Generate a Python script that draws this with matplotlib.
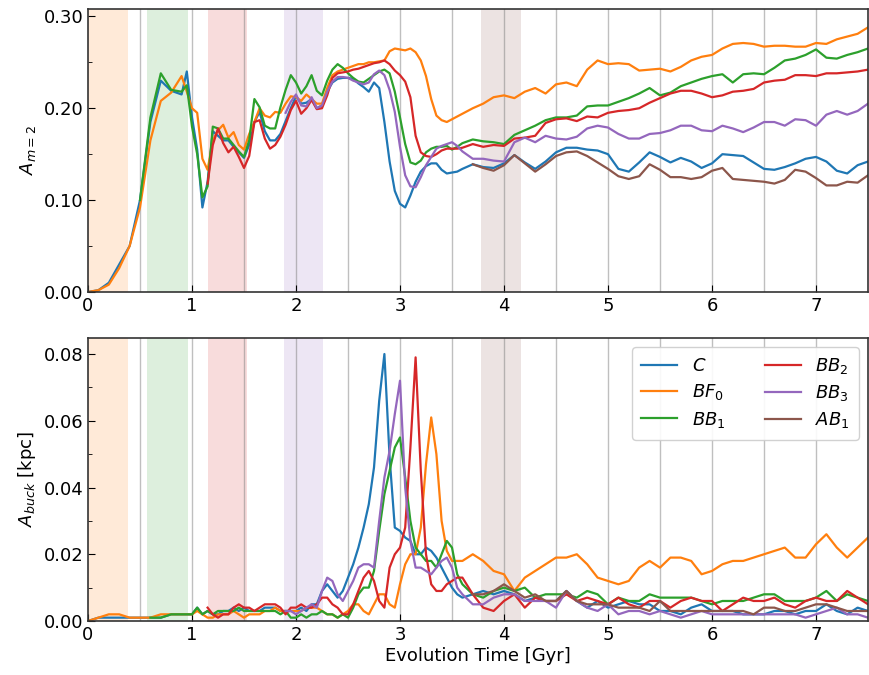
import numpy as np
import matplotlib
matplotlib.use("Agg")
import matplotlib.pyplot as plt
from matplotlib.ticker import MultipleLocator

# ---- time grid (Gyr) ----
t = np.round(np.concatenate([np.arange(0.0, 0.85, 0.1),
                             np.arange(0.9, 3.625, 0.05),
                             np.arange(3.7, 7.55, 0.1)]), 3)

labels = ["$C$", "$BF_0$", "$BB_1$", "$BB_2$", "$BB_3$", "$AB_1$"]
colors = ["#1f77b4", "#ff7f0e", "#2ca02c", "#d62728", "#9467bd", "#8c564b"]

# ---- A_{m=2} (top) ----
C_top = [0.000, 0.002, 0.010, 0.030, 0.050, 0.100, 0.185, 0.230, 0.219,
         0.215, 0.240, 0.190, 0.155, 0.092, 0.120, 0.175, 0.170, 0.165, 0.165,
         0.158, 0.152, 0.146, 0.160, 0.185, 0.196, 0.175, 0.165, 0.165, 0.172,
         0.186, 0.200, 0.213, 0.205, 0.206, 0.210, 0.200, 0.203, 0.218, 0.228,
         0.232, 0.233, 0.233, 0.232, 0.227, 0.223, 0.218, 0.228, 0.222, 0.185,
         0.142, 0.110, 0.096, 0.092, 0.105, 0.120, 0.131, 0.137, 0.140, 0.140,
         0.133, 0.129, 0.130, 0.131, 0.134,
         0.139, 0.136, 0.135, 0.140, 0.149, 0.141, 0.134, 0.142, 0.152, 0.157,
         0.157, 0.155, 0.154, 0.150, 0.134, 0.131, 0.141, 0.152, 0.147, 0.141,
         0.146, 0.142, 0.135, 0.140, 0.150, 0.149, 0.148, 0.141, 0.134, 0.133,
         0.136, 0.140, 0.145, 0.147, 0.142, 0.132, 0.129, 0.138, 0.142]
BF0_top = [0.000, 0.002, 0.008, 0.026, 0.050, 0.092, 0.165, 0.208, 0.217,
           0.235, 0.218, 0.200, 0.195, 0.145, 0.133, 0.165, 0.176, 0.182, 0.168,
           0.174, 0.160, 0.155, 0.172, 0.185, 0.200, 0.192, 0.190, 0.196, 0.195,
           0.205, 0.213, 0.212, 0.208, 0.215, 0.210, 0.205, 0.205, 0.222, 0.236,
           0.240, 0.242, 0.244, 0.246, 0.248, 0.248, 0.250, 0.250, 0.251, 0.252,
           0.262, 0.265, 0.264, 0.263, 0.265, 0.261, 0.252, 0.235, 0.210, 0.192,
           0.187, 0.185, 0.188, 0.191, 0.194,
           0.200, 0.205, 0.212, 0.214, 0.211, 0.218, 0.222, 0.216, 0.226, 0.228,
           0.224, 0.242, 0.252, 0.248, 0.249, 0.248, 0.241, 0.242, 0.243, 0.240,
           0.245, 0.252, 0.256, 0.258, 0.265, 0.270, 0.271, 0.270, 0.267, 0.268,
           0.268, 0.267, 0.267, 0.271, 0.270, 0.275, 0.278, 0.281, 0.288]
BB1_top = [0.100, 0.190, 0.238, 0.220,
           0.218, 0.225, 0.180, 0.150, 0.103, 0.115, 0.180, 0.178, 0.167, 0.167,
           0.160, 0.153, 0.147, 0.165, 0.210, 0.201, 0.181, 0.178, 0.178, 0.201,
           0.220, 0.236, 0.228, 0.216, 0.224, 0.236, 0.219, 0.214, 0.230, 0.242,
           0.248, 0.244, 0.238, 0.233, 0.229, 0.228, 0.232, 0.236, 0.240, 0.242,
           0.238, 0.218, 0.190, 0.161, 0.141, 0.139, 0.143, 0.152, 0.156, 0.158,
           0.158, 0.159, 0.155, 0.158, 0.162,
           0.166, 0.164, 0.163, 0.161, 0.171, 0.176, 0.181, 0.187, 0.190, 0.190,
           0.192, 0.202, 0.203, 0.203, 0.207, 0.211, 0.216, 0.222, 0.214, 0.217,
           0.224, 0.228, 0.232, 0.235, 0.237, 0.228, 0.237, 0.238, 0.237, 0.244,
           0.252, 0.254, 0.258, 0.264, 0.255, 0.254, 0.258, 0.261, 0.265]
BB2_top = [0.118, 0.160, 0.178, 0.162, 0.152,
           0.158, 0.147, 0.135, 0.148, 0.185, 0.187, 0.167, 0.156, 0.160, 0.169,
           0.182, 0.198, 0.208, 0.194, 0.200, 0.209, 0.199, 0.200, 0.214, 0.233,
           0.238, 0.239, 0.240, 0.242, 0.243, 0.245, 0.247, 0.249, 0.250, 0.252,
           0.248, 0.241, 0.236, 0.229, 0.212, 0.170, 0.152, 0.148, 0.147, 0.150,
           0.154, 0.156, 0.156, 0.156, 0.157,
           0.161, 0.158, 0.160, 0.159, 0.167, 0.168, 0.170, 0.184, 0.188, 0.189,
           0.186, 0.191, 0.190, 0.195, 0.197, 0.198, 0.200, 0.206, 0.211, 0.216,
           0.219, 0.219, 0.216, 0.212, 0.214, 0.218, 0.219, 0.221, 0.228, 0.230,
           0.231, 0.236, 0.236, 0.235, 0.238, 0.238, 0.239, 0.240, 0.242]
BB3_top = [0.195, 0.207, 0.215, 0.203, 0.202, 0.212, 0.200, 0.203, 0.218, 0.229,
           0.234, 0.234, 0.233, 0.230, 0.228, 0.226, 0.228, 0.237, 0.241, 0.236,
           0.220, 0.196, 0.158, 0.127, 0.115, 0.114, 0.125, 0.138, 0.147, 0.156,
           0.159, 0.161, 0.163, 0.159, 0.153,
           0.145, 0.145, 0.143, 0.142, 0.163, 0.168, 0.163, 0.170, 0.167, 0.166,
           0.169, 0.178, 0.181, 0.179, 0.172, 0.167, 0.167, 0.172, 0.173, 0.176,
           0.181, 0.181, 0.176, 0.175, 0.181, 0.178, 0.174, 0.179, 0.185, 0.185,
           0.181, 0.188, 0.187, 0.181, 0.193, 0.197, 0.193, 0.197, 0.205]
AB1_top = [0.139, 0.135, 0.132, 0.138, 0.149, 0.140, 0.131, 0.139, 0.148, 0.152,
           0.153, 0.148, 0.141, 0.134, 0.126, 0.123, 0.126, 0.139, 0.133, 0.125,
           0.125, 0.123, 0.125, 0.132, 0.135, 0.123, 0.122, 0.121, 0.120, 0.118,
           0.122, 0.133, 0.131, 0.124, 0.116, 0.116, 0.120, 0.119, 0.127]

# ---- A_buck [kpc] (bottom) ----
C_bot = [0.000, 0.001, 0.001, 0.001, 0.001, 0.001, 0.001, 0.001, 0.002,
         0.002, 0.002, 0.002, 0.004, 0.002, 0.003, 0.002, 0.002, 0.003, 0.003,
         0.004, 0.003, 0.004, 0.003, 0.003, 0.003, 0.004, 0.004, 0.004, 0.003,
         0.003, 0.003, 0.003, 0.004, 0.003, 0.005, 0.005, 0.009, 0.011, 0.009,
         0.007, 0.009, 0.013, 0.017, 0.022, 0.028, 0.035, 0.046, 0.066, 0.080,
         0.049, 0.028, 0.027, 0.025, 0.024, 0.020, 0.020, 0.022, 0.021, 0.019,
         0.016, 0.013, 0.010, 0.008, 0.007,
         0.008, 0.009, 0.008, 0.009, 0.008, 0.006, 0.007, 0.006, 0.006, 0.009,
         0.006, 0.004, 0.006, 0.004, 0.005, 0.006, 0.005, 0.005, 0.003, 0.003,
         0.002, 0.004, 0.005, 0.003, 0.003, 0.003, 0.002, 0.002, 0.002, 0.003,
         0.003, 0.002, 0.003, 0.003, 0.005, 0.003, 0.002, 0.004, 0.003]
BF0_bot = [0.000, 0.001, 0.002, 0.002, 0.001, 0.001, 0.001, 0.002, 0.002,
           0.002, 0.002, 0.002, 0.003, 0.002, 0.001, 0.001, 0.002, 0.002, 0.002,
           0.003, 0.002, 0.001, 0.002, 0.002, 0.002, 0.003, 0.003, 0.004, 0.003,
           0.003, 0.003, 0.003, 0.003, 0.004, 0.004, 0.004, 0.003, 0.002, 0.002,
           0.001, 0.002, 0.003, 0.005, 0.005, 0.003, 0.002, 0.005, 0.008, 0.008,
           0.005, 0.004, 0.011, 0.017, 0.020, 0.020, 0.028, 0.047, 0.061, 0.050,
           0.030, 0.021, 0.018, 0.018, 0.018,
           0.020, 0.018, 0.015, 0.014, 0.009, 0.013, 0.015, 0.017, 0.019, 0.019,
           0.020, 0.017, 0.013, 0.012, 0.011, 0.012, 0.016, 0.018, 0.016, 0.019,
           0.019, 0.018, 0.014, 0.015, 0.017, 0.018, 0.018, 0.019, 0.020, 0.021,
           0.022, 0.019, 0.019, 0.023, 0.026, 0.022, 0.019, 0.022, 0.025]
BB1_bot = [0.001, 0.001, 0.002,
           0.002, 0.002, 0.002, 0.004, 0.002, 0.003, 0.002, 0.003, 0.003, 0.003,
           0.003, 0.004, 0.003, 0.003, 0.003, 0.003, 0.003, 0.003, 0.003, 0.002,
           0.003, 0.001, 0.001, 0.002, 0.001, 0.002, 0.002, 0.003, 0.002, 0.002,
           0.001, 0.002, 0.001, 0.004, 0.008, 0.010, 0.010, 0.015, 0.027, 0.038,
           0.045, 0.052, 0.055, 0.043, 0.030, 0.022, 0.020, 0.018, 0.018, 0.016,
           0.020, 0.024, 0.022, 0.014, 0.011,
           0.008, 0.007, 0.009, 0.010, 0.009, 0.010, 0.007, 0.008, 0.008, 0.008,
           0.007, 0.009, 0.008, 0.005, 0.007, 0.006, 0.006, 0.008, 0.007, 0.007,
           0.007, 0.007, 0.006, 0.005, 0.006, 0.006, 0.006, 0.007, 0.008, 0.008,
           0.006, 0.006, 0.006, 0.007, 0.009, 0.006, 0.008, 0.007, 0.006]
BB2_bot = [0.004, 0.002, 0.001, 0.002, 0.002,
           0.004, 0.005, 0.004, 0.004, 0.003, 0.004, 0.005, 0.005, 0.005, 0.004,
           0.002, 0.004, 0.004, 0.005, 0.004, 0.004, 0.005, 0.007, 0.007, 0.005,
           0.004, 0.002, 0.002, 0.005, 0.009, 0.013, 0.015, 0.012, 0.006, 0.004,
           0.016, 0.020, 0.022, 0.028, 0.052, 0.079, 0.045, 0.020, 0.011, 0.009,
           0.009, 0.011, 0.012, 0.013, 0.013,
           0.008, 0.004, 0.003, 0.006, 0.008, 0.004, 0.007, 0.006, 0.006, 0.008,
           0.006, 0.007, 0.006, 0.005, 0.007, 0.005, 0.004, 0.006, 0.006, 0.004,
           0.006, 0.007, 0.006, 0.006, 0.003, 0.005, 0.007, 0.006, 0.006, 0.007,
           0.005, 0.004, 0.006, 0.007, 0.006, 0.006, 0.009, 0.007, 0.005]
BB3_bot = [0.003, 0.003, 0.002, 0.003, 0.004, 0.005, 0.004, 0.009, 0.013, 0.012,
           0.008, 0.006, 0.009, 0.012, 0.016, 0.017, 0.017, 0.016, 0.030, 0.043,
           0.051, 0.062, 0.072, 0.040, 0.024, 0.016, 0.016, 0.015, 0.014, 0.016,
           0.018, 0.019, 0.016, 0.010, 0.008,
           0.005, 0.005, 0.007, 0.008, 0.008, 0.006, 0.006, 0.006, 0.004, 0.009,
           0.006, 0.004, 0.003, 0.005, 0.002, 0.003, 0.003, 0.002, 0.003, 0.002,
           0.001, 0.002, 0.003, 0.002, 0.002, 0.002, 0.002, 0.002, 0.002, 0.002,
           0.002, 0.002, 0.001, 0.002, 0.003, 0.004, 0.002, 0.002, 0.001]
AB1_bot = [0.008, 0.008, 0.009, 0.011, 0.009, 0.007, 0.008, 0.006, 0.006, 0.009,
           0.006, 0.005, 0.005, 0.005, 0.004, 0.004, 0.004, 0.003, 0.006, 0.003,
           0.003, 0.003, 0.003, 0.003, 0.003, 0.003, 0.003, 0.002, 0.004, 0.004,
           0.003, 0.003, 0.004, 0.005, 0.005, 0.004, 0.003, 0.003, 0.003]

# shaded branching windows (start, end) in Gyr, one per non-control run
span_starts = [0.0, 0.57, 1.15, 1.88, 3.78]
span_ends = [0.385, 0.96, 1.53, 2.26, 4.16]
span_colors = colors[1:]

top_series = [C_top, BF0_top, BB1_top, BB2_top, BB3_top, AB1_top]
bot_series = [C_bot, BF0_bot, BB1_bot, BB2_bot, BB3_bot, AB1_bot]

fig = plt.figure(figsize=(8.7, 6.75), dpi=100)
ax1 = fig.add_axes([88/870, 1-292/675, 780/870, 283/675])
ax2 = fig.add_axes([88/870, 1-621/675, 780/870, 283/675])

for ax, series, ymax in [(ax1, top_series, 0.308), (ax2, bot_series, 0.0848)]:
    for s0, s1, c in zip(span_starts, span_ends, span_colors):
        ax.axvspan(s0, s1, color=c, alpha=0.16, lw=0, zorder=0)
    for xv in np.arange(0.5, 7.5, 0.5):
        ax.axvline(xv, color="gray", alpha=0.5, lw=1.0, zorder=1)
    for y, c, lab in zip(series, colors, labels):
        ax.plot(t[-len(y):], y, color=c, lw=1.6, label=lab, zorder=2)
    ax.set_xlim(0, 7.5)
    ax.set_ylim(0, ymax)
    ax.xaxis.set_major_locator(MultipleLocator(1))
    ax.tick_params(axis="both", which="both", direction="in", labelsize=13)
    ax.tick_params(axis="both", which="major", length=5)
    ax.tick_params(axis="y", which="minor", length=3)
    for sp in ax.spines.values():
        sp.set_color("#333333")
        sp.set_linewidth(1.2)

ax1.yaxis.set_major_locator(MultipleLocator(0.1))
ax1.yaxis.set_minor_locator(MultipleLocator(0.05))
ax1.yaxis.set_major_formatter(matplotlib.ticker.FormatStrFormatter("%.2f"))
ax2.yaxis.set_major_locator(MultipleLocator(0.02))
ax2.yaxis.set_minor_locator(MultipleLocator(0.01))
ax2.yaxis.set_major_formatter(matplotlib.ticker.FormatStrFormatter("%.2f"))

ax1.set_ylabel("$A_{m=2}$", fontsize=13)
ax2.set_ylabel("$A_{buck}$ [kpc]", fontsize=13)
ax2.set_xlabel("Evolution Time [Gyr]", fontsize=13, labelpad=2)

ax2.legend(ncol=2, loc="upper right", fontsize=13, framealpha=0.9,
           handlelength=2.0, columnspacing=2.2, borderpad=0.5, labelspacing=0.4)

fig.savefig("out.png", dpi=100)
